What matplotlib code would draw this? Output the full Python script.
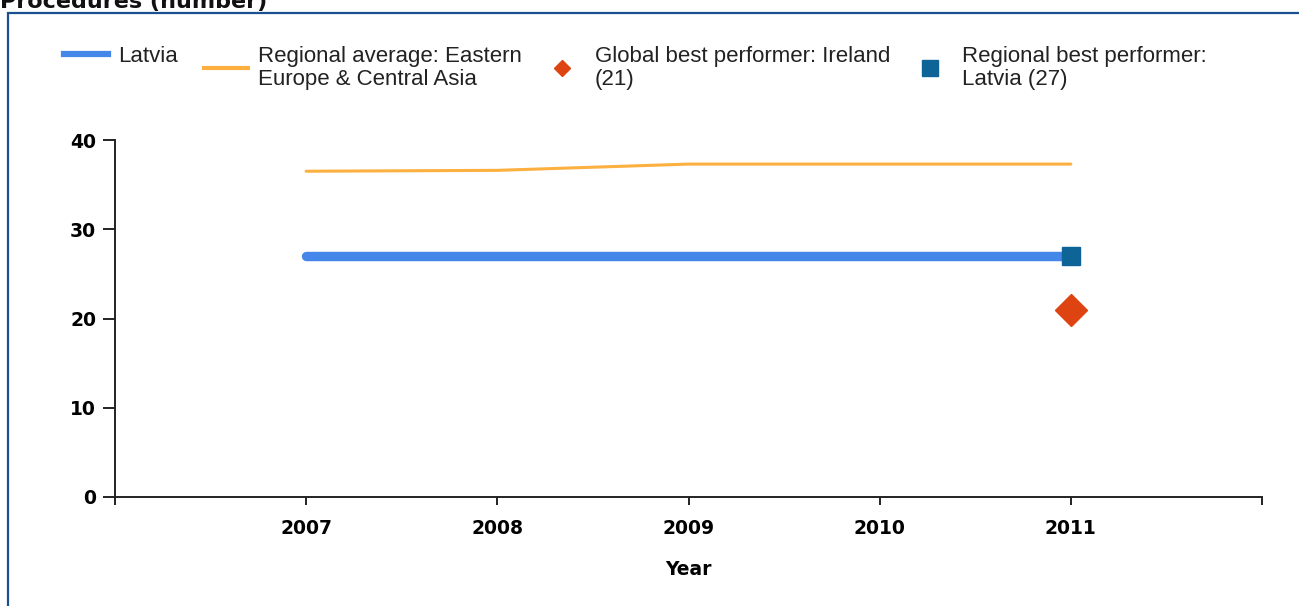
import matplotlib
matplotlib.use("Agg")
import matplotlib.pyplot as plt
from matplotlib.lines import Line2D
from matplotlib.patches import Rectangle

# ---- data ----
years = [2007, 2008, 2009, 2010, 2011]
latvia = [27, 27, 27, 27, 27]
regional_avg = [36.5, 36.6, 37.3, 37.3, 37.3]
global_best_year = [2011]
global_best_val = [21]
regional_best_year = [2011]
regional_best_val = [27]
yticks = [0, 10, 20, 30, 40]
xtick_labels = ["", "2007", "2008", "2009", "2010", "2011", ""]
xtick_pos = [2006, 2007, 2008, 2009, 2010, 2011, 2012]

legend_labels = ["Latvia",
                 "Regional average: Eastern\nEurope & Central Asia",
                 "Global best performer: Ireland\n(21)",
                 "Regional best performer:\nLatvia (27)"]

C_LAT = "#4487E8"
C_AVG = "#FBB040"
C_GLB = "#DD4411"
C_REG = "#0E6496"

W, H, DPI = 1299, 606, 100
fig = plt.figure(figsize=(W / DPI, H / DPI), dpi=DPI)
ax = fig.add_axes([115 / W, (H - 497) / H, (1262 - 115) / W, (497 - 140) / H])

ax.plot(years, regional_avg, color=C_AVG, lw=2.2, solid_capstyle="round", zorder=2)
ax.plot(years, latvia, color=C_LAT, lw=6.8, solid_capstyle="round", zorder=3)
ax.plot(global_best_year, global_best_val, marker="D", ls="none", color=C_GLB,
        markersize=16, zorder=4)
ax.plot(regional_best_year, regional_best_val, marker="s", ls="none", color=C_REG,
        markersize=13, zorder=5)

ax.set_xlim(2006, 2012)
ax.set_ylim(0, 40)
ax.set_xticks(xtick_pos)
ax.set_xticklabels(xtick_labels)
ax.set_yticks(yticks)
for s in ["top", "right"]:
    ax.spines[s].set_visible(False)
for s in ["left", "bottom"]:
    ax.spines[s].set_linewidth(1.4)
    ax.spines[s].set_color("#222222")
ax.tick_params(axis="y", length=8.5, width=1.4, color="#222222", pad=5,
               labelsize=13.5)
ax.tick_params(axis="x", length=5.5, width=1.4, color="#222222", pad=10,
               labelsize=13.5)
for lab in ax.get_xticklabels() + ax.get_yticklabels():
    lab.set_fontweight("bold")
ax.set_xlabel("Year", fontsize=13.5, fontweight="bold", labelpad=16)

handles = [
    Line2D([], [], color=C_LAT, lw=4.5),
    Line2D([], [], color=C_AVG, lw=3.0),
    Line2D([], [], color=C_GLB, marker="D", ls="none", markersize=8),
    Line2D([], [], color=C_REG, marker="s", ls="none", markersize=11),
]
common = dict(loc="upper left", frameon=False,
              prop={"family": "Liberation Sans", "size": 16},
              handlelength=2.0, handletextpad=0.45, columnspacing=0.8,
              borderaxespad=0, borderpad=0)
top_y = 1 - 46 / H
leg1 = fig.legend(handles[:1], legend_labels[:1], ncol=1,
                  bbox_to_anchor=(64 / W, top_y), **common)
leg2 = fig.legend(handles[1:], legend_labels[1:], ncol=3,
                  bbox_to_anchor=(204 / W, top_y), **common)
for leg in (leg1, leg2):
    for t in leg.get_texts():
        t.set_linespacing(1.1)
        t.set_color("#222222")

# outer frame
fig.patches.append(Rectangle((8 / W, -0.05), 1.1, 1 - 13 / H + 0.05,
                             transform=fig.transFigure, fill=False,
                             edgecolor="#1B4F8F", lw=1.6, zorder=0))
fig.text(0 / W, 1 - 8 / H, "Procedures (number)", fontsize=16, fontweight="bold",
         va="baseline", ha="left", color="#111111")

fig.savefig("out.png", dpi=DPI)
